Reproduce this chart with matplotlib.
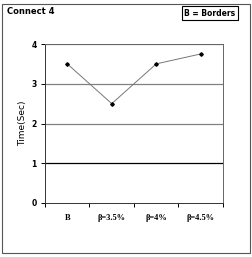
import matplotlib
matplotlib.use("Agg")
import matplotlib.pyplot as plt
import numpy as np

# data
categories = ["B", "\u03b2=3.5%", "\u03b2=4%", "\u03b2=4.5%"]
times = [3.5, 2.5, 3.5, 3.75]
y_ticks = [0, 1, 2, 3, 4]

fig = plt.figure(figsize=(2.53, 2.57), dpi=100)

# outer frame round the whole chart
frame = plt.Rectangle((2 / 253, 4 / 257), 248 / 253, 249 / 257, transform=fig.transFigure,
                      fill=False, edgecolor="#555555", linewidth=0.8)
fig.patches.append(frame)

ax = fig.add_axes([45 / 253, 1 - 203 / 257, 178 / 253, 159 / 257])

x = np.arange(len(categories)) + 0.5
ax.set_xlim(0, len(categories))
ax.set_ylim(0, 4)

for v in y_ticks[1:]:
    ax.axhline(v, color="black" if v == 1 else "#808080", linewidth=0.9, zorder=1)

ax.plot(x, times, color="#777777", linewidth=0.7, zorder=2)
ax.plot(x, times, linestyle="none", marker="D", markersize=1.8, color="black", zorder=3)

ax.set_yticks(y_ticks)
ax.set_yticklabels([str(v) for v in y_ticks], fontsize=5.5, fontweight="bold")
ax.set_xticks(np.arange(len(categories) + 1))
ax.set_xticklabels([])
ax.set_xticks(x, minor=True)
ax.set_xticklabels(categories, minor=True, fontsize=6, family="Liberation Serif", fontweight="bold")
ax.tick_params(axis="x", which="major", direction="out", length=3, width=0.7)
ax.tick_params(axis="x", which="minor", length=0, pad=8)
ax.tick_params(axis="y", direction="out", length=3, width=0.7, pad=3)

for s in ["top", "right"]:
    ax.spines[s].set_color("#666666")
    ax.spines[s].set_linewidth(0.7)
for s in ["left", "bottom"]:
    ax.spines[s].set_color("#333333")
    ax.spines[s].set_linewidth(0.7)

ax.set_ylabel("Time(Sec)", fontsize=6.5, labelpad=3)

fig.text(7 / 253, 1 - 11 / 257, "Connect 4", fontsize=6, fontweight="bold", va="center", ha="left")
fig.text(210 / 253, 1 - 13 / 257, "B = Borders", fontsize=5.5, fontweight="bold", va="center", ha="center",
         bbox=dict(boxstyle="square,pad=0.35", facecolor="white", edgecolor="black", linewidth=0.8))

fig.savefig("out.png", dpi=100)
